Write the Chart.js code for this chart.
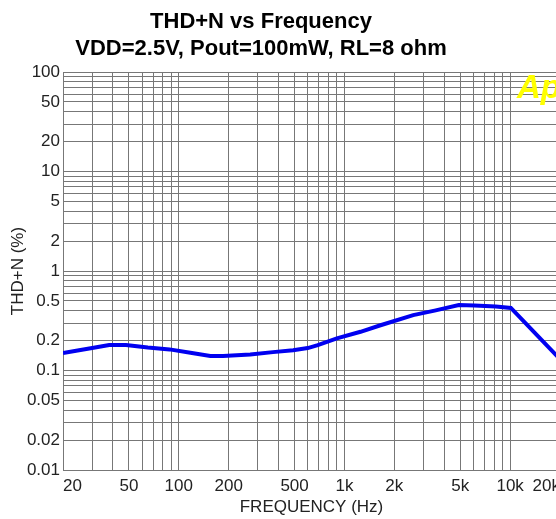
<!DOCTYPE html>
<html lang="en">
<head>
  <meta charset="UTF-8" />
  <title>THD+N vs Frequency</title>
  <script src="https://cdn.jsdelivr.net/npm/chart.js"></script>
  <style>
    html, body {
      margin: 0;
      padding: 0;
      background: #fff;
      overflow: hidden;
    }
    #thdChart {
      display: block;
    }
  </style>
</head>
<body>
  <canvas id="thdChart" width="580" height="519"></canvas>

  <script>
    const freqs = [20, 25, 30, 38, 48, 65, 88, 120, 155, 185, 270, 370, 490, 600, 690, 900, 1250, 1650, 2600, 3500, 4900, 6100, 8200, 10100, 20000];
    const thdn  = [0.15, 0.16, 0.168, 0.18, 0.18, 0.17, 0.163, 0.15, 0.14, 0.14, 0.145, 0.153, 0.16, 0.168, 0.18, 0.21, 0.245, 0.285, 0.36, 0.40, 0.455, 0.45, 0.44, 0.425, 0.13];

    // Grid lines and labels
    const xGrid = [20, 30, 40, 50, 60, 70, 80, 90, 100, 200, 300, 400, 500, 600, 700, 800, 900,
                   1000, 2000, 3000, 4000, 5000, 6000, 7000, 8000, 9000, 10000, 20000];
    const xLabelValues = [20, 50, 100, 200, 500, 1000, 2000, 5000, 10000, 20000];
    const xLabels = ['20', '50', '100', '200', '500', '1k', '2k', '5k', '10k', '20k'];

    const yGrid = [];
    [0.01, 0.1, 1, 10].forEach(d => {
      for (let m = 1; m <= 9; m++) yGrid.push(+(m * d).toPrecision(3));
    });
    yGrid.push(100);
    const yLabelValues = [100, 50, 20, 10, 5, 2, 1, 0.5, 0.2, 0.1, 0.05, 0.02, 0.01];
    const yLabels = ['100', '50', '20', '10', '5', '2', '1', '0.5', '0.2', '0.1', '0.05', '0.02', '0.01'];

    const gridColor = '#777';
    const fontFamily = '"Liberation Sans", Arial, sans-serif';

    function labelFor(value, values, labels) {
      for (let i = 0; i < values.length; i++) {
        if (Math.abs(values[i] - value) / values[i] < 1e-6) return labels[i];
      }
      return '';
    }

    // move the title centre a bit left, like the original
    const titleShift = {
      id: 'titleShift',
      afterLayout(chart) {
        if (chart.titleBlock) {
          chart.titleBlock.left = 0;
          chart.titleBlock.right = 522;
          chart.titleBlock.width = 522;
        }
      }
    };

    // yellow logo in the corner
    const logo = {
      id: 'logo',
      afterDraw(chart) {
        const c = chart.ctx;
        c.save();
        c.font = 'italic bold 33px ' + fontFamily;
        c.fillStyle = '#ffff00';
        c.textBaseline = 'alphabetic';
        c.fillText('Ap', 517, 98);
        c.restore();
      }
    };

    const ctx = document.getElementById('thdChart').getContext('2d');
    const chart = new Chart(ctx, {
      type: 'line',
      data: {
        datasets: [{
          label: 'THD+N',
          data: freqs.map((f, i) => ({ x: f, y: thdn[i] })),
          borderColor: '#0000f0',
          borderWidth: 4,
          pointRadius: 0,
          tension: 0,
          fill: false
        }]
      },
      options: {
        responsive: false,
        animation: false,
        layout: { padding: { left: 0, right: 20, top: 0, bottom: 0 } },
        plugins: {
          legend: { display: false },
          tooltip: { enabled: false },
          title: {
            display: true,
            text: ['THD+N vs Frequency', 'VDD=2.5V, Pout=100mW, RL=8 ohm'],
            color: '#000',
            font: { family: fontFamily, size: 22, weight: 'bold', lineHeight: 1.2 },
            padding: { top: 9, bottom: 10.2 }
          }
        },
        scales: {
          x: {
            type: 'logarithmic',
            min: 20,
            max: 20000,
            afterBuildTicks: scale => { scale.ticks = xGrid.map(v => ({ value: v })); },
            afterFit: scale => { scale.height = 49; },
            grid: { color: gridColor, lineWidth: 1, drawTicks: false },
            border: { color: gridColor, width: 1 },
            ticks: {
              autoSkip: false,
              maxRotation: 0,
              align: 'inner',
              padding: 6,
              color: '#222',
              font: { family: fontFamily, size: 17 },
              callback: value => labelFor(value, xLabelValues, xLabels)
            },
            title: {
              display: true,
              text: 'FREQUENCY (Hz)',
              color: '#222',
              font: { family: fontFamily, size: 17 },
              padding: { top: 0, bottom: 1 }
            }
          },
          y: {
            type: 'logarithmic',
            min: 0.01,
            max: 100,
            afterBuildTicks: scale => { scale.ticks = yGrid.map(v => ({ value: v })); },
            afterFit: scale => { scale.width = 63; },
            grid: { color: gridColor, lineWidth: 1, drawTicks: false },
            border: { color: gridColor, width: 1 },
            ticks: {
              autoSkip: false,
              padding: 3,
              color: '#222',
              font: { family: fontFamily, size: 17 },
              callback: value => labelFor(value, yLabelValues, yLabels)
            },
            title: {
              display: true,
              text: 'THD+N (%)',
              color: '#222',
              font: { family: fontFamily, size: 17 },
              padding: { top: 8, bottom: 0 }
            }
          }
        }
      },
      plugins: [titleShift, logo]
    });
  </script>
</body>
</html>
